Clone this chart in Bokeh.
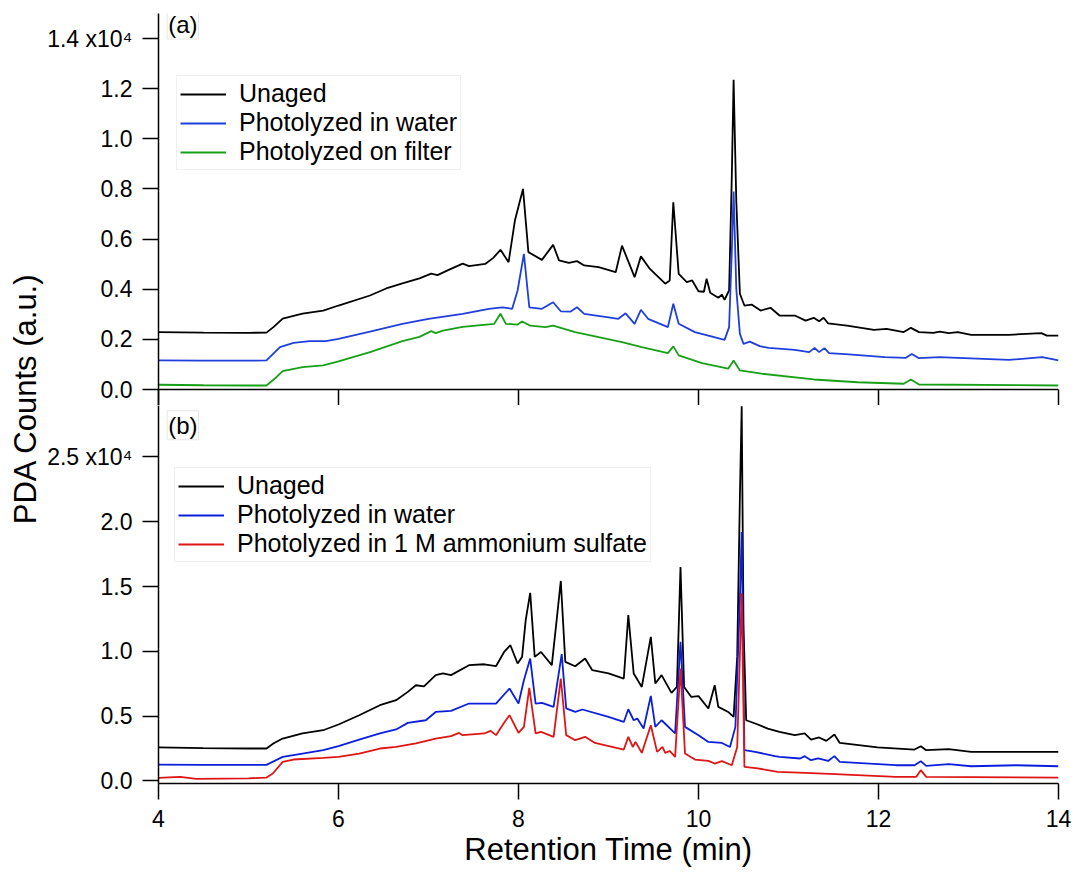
import math
from bokeh.plotting import figure
from bokeh.models import (Legend, LegendItem, Label, Span, FixedTicker, Range1d)
from bokeh.layouts import row, column
from bokeh.embed import file_html
from bokeh.resources import INLINE

# ---------------- data ----------------
# Panel (a)
a_unaged_t = [4.0, 4.5, 5.0, 5.2, 5.28, 5.38, 5.6, 5.83, 6.0, 6.35, 6.53, 6.71, 6.9, 7.03, 7.1, 7.23,
              7.38, 7.45, 7.63, 7.72, 7.80, 7.89, 7.96, 8.05, 8.11, 8.26, 8.385, 8.45, 8.56, 8.65, 8.73,
              8.89, 9.08, 9.15, 9.29, 9.36, 9.46, 9.63, 9.68, 9.72, 9.78, 9.87, 9.93, 10.0, 10.06, 10.09,
              10.13, 10.22, 10.26, 10.29, 10.34, 10.37, 10.39, 10.42, 10.46, 10.51, 10.59, 10.69, 10.80,
              10.90, 11.07, 11.19, 11.28, 11.34, 11.39, 11.44, 11.65, 11.95, 12.09, 12.28, 12.36, 12.45,
              12.61, 12.68, 12.78, 12.88, 13.03, 13.45, 13.81, 13.87, 14.0]
a_unaged_v = [2290, 2270, 2260, 2270, 2500, 2830, 3030, 3150, 3350, 3750, 4030, 4230, 4430, 4620, 4560, 4780,
              5020, 4920, 5010, 5250, 5570, 5080, 6740, 8000, 5480, 5170, 5770, 5150, 5050, 5120, 4950,
              4880, 4680, 5740, 4480, 5310, 4810, 4220, 4350, 7470, 4610, 4280, 4350, 3920, 3900, 4420,
              3860, 3660, 3780, 3580, 3950, 8500, 12350, 7500, 3820, 3350, 3390, 3150, 3260,
              2950, 2950, 2750, 2860, 2720, 2860, 2640, 2550, 2380, 2420, 2290, 2460, 2290,
              2260, 2310, 2250, 2290, 2180, 2180, 2250, 2150, 2150]

a_water_t = [4.0, 4.5, 5.0, 5.2, 5.35, 5.5, 5.68, 5.86, 6.0, 6.35, 6.71, 7.0, 7.38, 7.67, 7.82, 7.93, 7.99,
             8.06, 8.12, 8.26, 8.385, 8.47, 8.58, 8.65, 8.73, 9.0, 9.11, 9.19, 9.29, 9.36, 9.44, 9.66, 9.72,
             9.78, 9.96, 10.11, 10.29, 10.34, 10.37, 10.39, 10.42, 10.46, 10.50, 10.57, 10.68, 10.78, 11.07,
             11.23, 11.29, 11.34, 11.40, 11.45, 11.67, 12.07, 12.30, 12.37, 12.45, 12.68, 12.88, 13.45,
             13.82, 14.0]
a_water_v = [1160, 1150, 1150, 1160, 1690, 1860, 1930, 1930, 2020, 2310, 2620, 2820, 3020, 3220, 3280, 3220, 3950,
             5410, 3280, 3220, 3480, 3120, 3110, 3280, 3020, 2880, 2820, 3040, 2620, 3180, 2820, 2490, 3420,
             2620, 2290, 2150, 1980, 2490, 5500, 7900, 4000, 2220, 1820, 1910, 1730, 1660, 1580,
             1490, 1660, 1490, 1650, 1450, 1400, 1290, 1260, 1420, 1250, 1290, 1260, 1180,
             1290, 1160]

a_filter_t = [4.0, 4.5, 5.0, 5.2, 5.31, 5.38, 5.6, 5.83, 6.0, 6.35, 6.71, 6.9, 7.03, 7.08, 7.16, 7.38, 7.73,
              7.80, 7.86, 7.99, 8.04, 8.13, 8.30, 8.385, 8.63, 8.89, 9.15, 9.37, 9.66, 9.72, 9.78, 10.04,
              10.33, 10.39, 10.46, 10.70, 11.28, 11.77, 12.28, 12.36, 12.45, 14.0]
a_filter_v = [190, 170, 160, 160, 490, 730, 890, 960, 1120, 1490, 1930, 2100, 2330, 2250, 2350, 2500, 2620,
              3020, 2620, 2590, 2710, 2550, 2490, 2550, 2290, 2090, 1890, 1690, 1450, 1720, 1360, 1050,
              830, 1160, 760, 630, 400, 290, 230, 400, 200, 160]

# Panel (b)
b_unaged_t = [4.0, 4.5, 5.0, 5.2, 5.28, 5.38, 5.6, 5.83, 6.0, 6.23, 6.46, 6.64, 6.77, 6.86, 6.95, 7.08, 7.16,
              7.25, 7.45, 7.62, 7.75, 7.84, 7.91, 7.99, 8.04, 8.08, 8.13, 8.18, 8.25, 8.37, 8.42, 8.47, 8.52,
              8.63, 8.74, 8.82, 9.0, 9.17, 9.22, 9.28, 9.37, 9.47, 9.52, 9.59, 9.70, 9.76, 9.80, 9.84, 9.92,
              10.0, 10.11, 10.18, 10.22, 10.33, 10.39, 10.43, 10.46, 10.48, 10.50, 10.53, 10.63, 10.77,
              10.90, 11.07, 11.18, 11.25, 11.34, 11.42, 11.51, 11.57, 11.99, 12.40, 12.47, 12.53, 12.78,
              13.03, 14.0]
b_unaged_v = [2580, 2530, 2500, 2500, 2900, 3270, 3660, 3910, 4350, 5070, 5840, 6230, 6870, 7380, 7300, 8160, 8290,
              8160, 8930, 9000, 8850, 9950, 10470, 9060, 9570, 12400, 14510, 9570, 9950, 8930, 12150, 15430, 9180,
              8850, 9440, 8540, 8290, 7900, 12790, 8290, 7250, 11110, 7520, 8160, 6790, 7250, 16510, 7250, 6480,
              6540, 5590, 7380, 5710, 5320, 4940, 9570, 22000, 28900, 12000, 4680, 4430, 4040,
              3780, 3530, 3660, 3190, 3350, 3090, 3580, 2930, 2580, 2420, 2680, 2370, 2450,
              2240, 2240]

b_water_t = [4.0, 4.5, 5.0, 5.2, 5.38, 5.6, 5.83, 6.0, 6.23, 6.46, 6.64, 6.77, 6.97, 7.08, 7.25, 7.45, 7.75,
             7.90, 8.00, 8.06, 8.13, 8.19, 8.26, 8.39, 8.48, 8.53, 8.63, 8.71, 9.0, 9.17, 9.22, 9.28, 9.32,
             9.39, 9.47, 9.52, 9.59, 9.74, 9.80, 9.85, 10.0, 10.11, 10.26, 10.35, 10.41, 10.46, 10.48, 10.51,
             10.63, 10.85, 10.90, 11.13, 11.18, 11.25, 11.33, 11.44, 11.51, 11.57, 12.19, 12.40, 12.47, 12.53,
             12.78, 13.03, 13.53, 14.0]
b_water_v = [1260, 1240, 1240, 1240, 1850, 2110, 2370, 2680, 3190, 3660, 3970, 4480, 4680, 5320, 5400, 5970, 5970,
             7130, 5970, 7770, 9440, 5970, 6020, 5710, 9780, 5590, 5320, 5510, 4940, 4550, 5530, 4680, 4810,
             4040, 6560, 4170, 4680, 3660, 10730, 4170, 3530, 3010, 2930, 2620, 4170, 14000, 19200, 2370,
             2240, 1910, 1850, 1730, 1910, 1600, 1730, 1540, 1910, 1470, 1210, 1210, 1520, 1160,
             1290, 1130, 1210, 1130]

b_sulfate_t = [4.0, 4.24, 4.42, 5.0, 5.2, 5.27, 5.38, 5.5, 5.83, 6.0, 6.23, 6.46, 6.64, 6.86, 7.08, 7.25, 7.34,
               7.38, 7.62, 7.69, 7.75, 7.84, 7.90, 8.00, 8.06, 8.12, 8.19, 8.25, 8.39, 8.47, 8.53, 8.63, 8.74,
               8.85, 9.17, 9.22, 9.27, 9.30, 9.37, 9.47, 9.54, 9.60, 9.63, 9.68, 9.74, 9.80, 9.85, 9.96, 10.11,
               10.18, 10.26, 10.37, 10.43, 10.48, 10.51, 10.66, 10.88, 11.19, 11.52, 12.19, 12.42, 12.47,
               12.53, 14.0]
b_sulfate_v = [230, 310, 150, 200, 260, 570, 1470, 1650, 1770, 1850, 2110, 2500, 2620, 2890, 3270, 3450, 3700,
               3530, 3660, 3860, 3530, 4480, 5070, 3700, 4170, 7180, 3660, 3780, 3400, 7900, 3530, 3140, 3400,
               2930, 2420, 3400, 2620, 3010, 2160, 4300, 2240, 2620, 2160, 2310, 1850, 8670, 2110, 1650, 1540,
               1340, 1520, 1210, 2620, 14500, 1080, 960, 700, 620, 520, 310, 320, 830,
               310, 260]

a_labels = ["Unaged", "Photolyzed in water", "Photolyzed on filter"]
b_labels = ["Unaged", "Photolyzed in water", "Photolyzed in 1 M ammonium sulfate"]

x_ticks = [4, 6, 8, 10, 12, 14]
a_ticks = [0, 2000, 4000, 6000, 8000, 10000, 12000, 14000]
a_tick_text = ["0.0", "0.2", "0.4", "0.6", "0.8", "1.0", "1.2", "1.4 x10\u2074"]
b_ticks = [0, 5000, 10000, 15000, 20000, 25000]
b_tick_text = ["0.0", "0.5", "1.0", "1.5", "2.0", "2.5 x10\u2074"]

for t, v in [(a_unaged_t, a_unaged_v), (a_water_t, a_water_v), (a_filter_t, a_filter_v),
             (b_unaged_t, b_unaged_v), (b_water_t, b_water_v), (b_sulfate_t, b_sulfate_v)]:
    assert len(t) == len(v), (len(t), len(v))

# ---------------- style ----------------
FONT = "Liberation Sans"
BLACK = "#000000"
BLUE_A = "#1f3fdc"
GREEN = "#17a017"
BLUE_B = "#0a1edc"
RED = "#de1515"
LW = 1.8
YLAB_W = 44
MAIN_W = 1076 - YLAB_W
LEFT = 155 - YLAB_W


def style_common(p):
    p.xgrid.visible = False
    p.ygrid.visible = False
    p.outline_line_color = None
    p.background_fill_color = "white"
    p.border_fill_color = "white"


def style_yaxis(ax, ticks, texts):
    ax.ticker = FixedTicker(ticks=ticks)
    ax.major_label_overrides = {t: s for t, s in zip(ticks, texts)}
    ax.major_tick_out = 16
    ax.major_tick_in = 0
    ax.minor_tick_out = 0
    ax.minor_tick_in = 0
    ax.major_tick_line_width = 1.5
    ax.axis_line_width = 1.5
    ax.major_tick_line_color = "black"
    ax.axis_line_color = "black"
    ax.major_label_standoff = 10
    ax.major_label_text_font = FONT
    ax.major_label_text_font_size = "23px"
    ax.major_label_text_color = "black"


shared_x = Range1d(4, 14)

# ---------------- panel (a) ----------------
pa = figure(width=MAIN_W, height=405, x_range=shared_x, y_range=Range1d(-638, 14998),
            output_backend="svg", toolbar_location=None,
            min_border_left=LEFT, min_border_right=18, min_border_top=13, min_border_bottom=0)
style_common(pa)
style_yaxis(pa.yaxis[0], a_ticks, a_tick_text)
xa = pa.xaxis[0]
# unlabeled ticks pointing down from the zero line (drawn as minor ticks, which carry no labels)
xa.ticker = FixedTicker(ticks=[], minor_ticks=x_ticks)
xa.major_tick_in = 0
xa.major_tick_out = 0
xa.minor_tick_in = 16
xa.minor_tick_out = 0
xa.minor_tick_line_width = 1.5
xa.minor_tick_line_color = "black"
xa.axis_line_color = None
xa.major_label_standoff = 0
pa.add_layout(Span(location=0, dimension="width", line_color="black", line_width=1.5))

ra1 = pa.line(a_unaged_t, a_unaged_v, line_color=BLACK, line_width=LW)
ra2 = pa.line(a_water_t, a_water_v, line_color=BLUE_A, line_width=LW)
ra3 = pa.line(a_filter_t, a_filter_v, line_color=GREEN, line_width=LW)


def make_legend(items, loc):
    lg = Legend(items=items, location=loc)
    lg.label_text_font = FONT
    lg.label_text_font_size = "25px"
    lg.label_text_color = "black"
    lg.glyph_width = 46
    lg.glyph_height = 24
    lg.label_height = 24
    lg.spacing = 0
    lg.padding = 3
    lg.margin = 0
    lg.label_standoff = 13
    lg.border_line_color = "#e2e2e2"
    lg.border_line_width = 1
    lg.background_fill_color = "white"
    lg.background_fill_alpha = 1.0
    return lg


pa.add_layout(make_legend([LegendItem(label=a_labels[0], renderers=[ra1]),
                           LegendItem(label=a_labels[1], renderers=[ra2]),
                           LegendItem(label=a_labels[2], renderers=[ra3])], (18, 235)))

pa.add_layout(Label(x=4.27, y=14560, text="(a)", text_align="center", text_baseline="middle",
                    text_font=FONT, text_font_size="24px", text_color="black",
                    background_fill_color="white", border_line_color="#e6e6e6", padding=1))

# ---------------- panel (b) ----------------
pb = figure(width=MAIN_W, height=469, x_range=shared_x, y_range=Range1d(-200, 28966),
            output_backend="svg", toolbar_location=None,
            min_border_left=LEFT, min_border_right=18, min_border_top=0, min_border_bottom=91)
style_common(pb)
style_yaxis(pb.yaxis[0], b_ticks, b_tick_text)
xb = pb.xaxis[0]
xb.ticker = FixedTicker(ticks=x_ticks)
xb.major_tick_out = 16
xb.major_tick_in = 0
xb.minor_tick_in = 0
xb.minor_tick_out = 0
xb.major_tick_line_width = 1.5
xb.axis_line_width = 1.5
xb.axis_line_color = "black"
xb.major_label_standoff = 10
xb.major_label_text_font = FONT
xb.major_label_text_font_size = "23px"
xb.major_label_text_color = "black"
xb.axis_label = "Retention Time (min)"
xb.axis_label_text_font = FONT
xb.axis_label_text_font_size = "31px"
xb.axis_label_text_font_style = "normal"
xb.axis_label_text_color = "black"
xb.axis_label_standoff = 2

rb1 = pb.line(b_unaged_t, b_unaged_v, line_color=BLACK, line_width=LW)
rb2 = pb.line(b_water_t, b_water_v, line_color=BLUE_B, line_width=LW)
rb3 = pb.line(b_sulfate_t, b_sulfate_v, line_color=RED, line_width=LW)

pb.add_layout(make_legend([LegendItem(label=b_labels[0], renderers=[rb1]),
                           LegendItem(label=b_labels[1], renderers=[rb2]),
                           LegendItem(label=b_labels[2], renderers=[rb3])], (16, 221)))

pb.add_layout(Label(x=4.27, y=27440, text="(b)", text_align="center", text_baseline="middle",
                    text_font=FONT, text_font_size="24px", text_color="black",
                    background_fill_color="white", border_line_color="#e6e6e6", padding=1))

# ---------------- shared y label ----------------
py = figure(width=YLAB_W, height=874, x_range=Range1d(0, YLAB_W), y_range=Range1d(0, 874),
            output_backend="svg", toolbar_location=None,
            x_axis_location=None, y_axis_location=None,
            min_border_left=0, min_border_right=0, min_border_top=0, min_border_bottom=0)
style_common(py)
py.add_layout(Label(x=25, y=874 - 398, text="PDA Counts (a.u.)", angle=math.pi / 2,
                    text_align="center", text_baseline="middle",
                    text_font=FONT, text_font_size="31px", text_color="black"))

layout = row(py, column(pa, pb, spacing=0), spacing=0)

open("out.html", "w").write(file_html(layout, INLINE))
